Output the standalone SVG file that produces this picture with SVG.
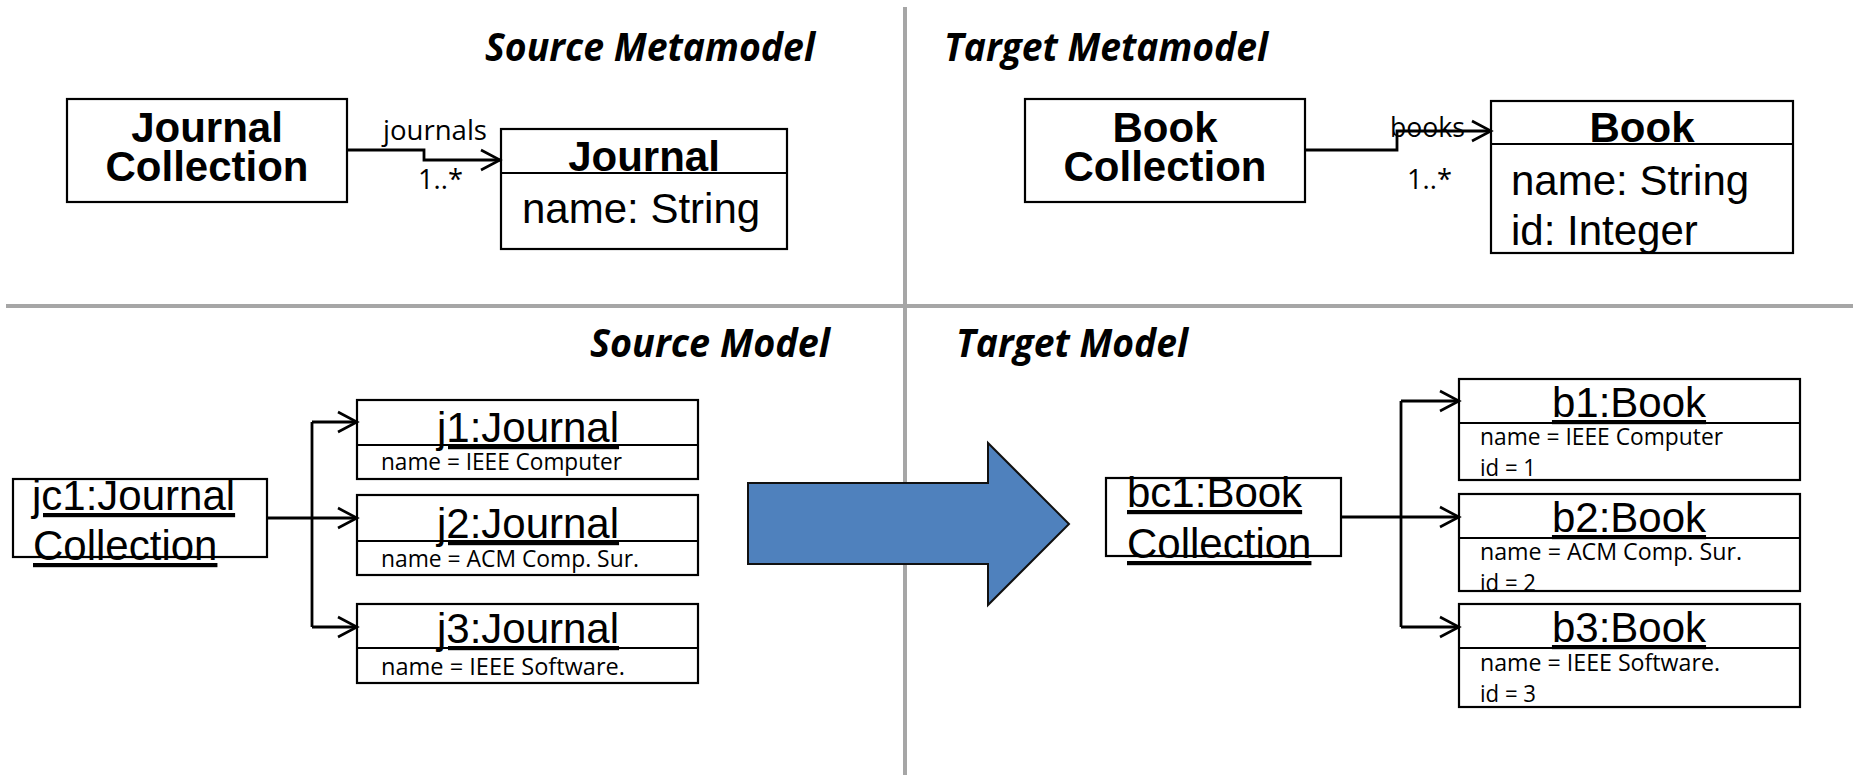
<svg xmlns="http://www.w3.org/2000/svg" width="1853" height="775" viewBox="0 0 1853 775">
  <style>
    .box { fill: #ffffff; stroke: #000000; stroke-width: 2.2; }
    .sep { stroke: #000000; stroke-width: 2.2; }
    .divider { stroke: #A6A6A6; stroke-width: 4; }
    .title { font-family: "Open Sans", "Noto Sans", sans-serif; font-weight: bold; font-style: italic; font-size: 39px; fill: #000; }
    .cls { font-family: "Liberation Sans", Arial, sans-serif; font-weight: bold; font-size: 42px; text-anchor: middle; fill: #000; }
    .attr { font-family: "Liberation Sans", Arial, sans-serif; font-size: 42px; fill: #000; }
    .obj { font-family: "Liberation Sans", Arial, sans-serif; font-size: 42px; text-decoration: underline; fill: #000; }
    .objc { font-family: "Liberation Sans", Arial, sans-serif; font-size: 42px; text-decoration: underline; text-anchor: middle; fill: #000; }
    .small { font-family: "Open Sans", "Noto Sans", sans-serif; font-size: 24px; fill: #000; }
    .lbl { font-family: "Open Sans", "Noto Sans", sans-serif; font-size: 28px; fill: #000; }
    .conn { fill: none; stroke: #000000; stroke-width: 2.8; }
    .bigarrow { fill: #4F81BD; stroke: #111111; stroke-width: 2; }
  </style>
  <defs>
    <marker id="open" markerUnits="userSpaceOnUse" markerWidth="24" markerHeight="26" viewBox="0 0 24 26" refX="21" refY="13" orient="auto">
      <path d="M2,3 L21,13 L2,23" fill="none" stroke="#000" stroke-width="2.6"/>
    </marker>
  </defs>

  <rect width="1853" height="775" fill="#ffffff"/>

  <!-- quadrant dividers -->
  <g id="dividers">
    <line class="divider" x1="905" y1="7" x2="905" y2="775"/>
    <line class="divider" x1="6" y1="306" x2="1853" y2="306"/>
  </g>

  <!-- quadrant headings -->
  <g id="headings">
    <text class="title" x="485" y="61" textLength="330" lengthAdjust="spacingAndGlyphs">Source Metamodel</text>
    <text class="title" x="944" y="61" textLength="324" lengthAdjust="spacingAndGlyphs">Target Metamodel</text>
    <text class="title" x="590" y="357" textLength="240" lengthAdjust="spacingAndGlyphs">Source Model</text>
    <text class="title" x="956" y="357" textLength="232" lengthAdjust="spacingAndGlyphs">Target Model</text>
  </g>

  <!-- source metamodel -->
  <g id="journal-collection-class">
    <rect class="box" x="67" y="99" width="280" height="103"/>
    <text class="cls" x="207" y="142">Journal</text>
    <text class="cls" x="207" y="181">Collection</text>
  </g>
  <g id="journal-class">
    <rect class="box" x="501" y="129" width="286" height="120"/>
    <line class="sep" x1="501" y1="173" x2="787" y2="173"/>
    <text class="cls" x="644" y="171">Journal</text>
    <text class="attr" x="522" y="223">name: String</text>
  </g>

  <!-- target metamodel -->
  <g id="book-collection-class">
    <rect class="box" x="1025" y="99" width="280" height="103"/>
    <text class="cls" x="1165" y="142">Book</text>
    <text class="cls" x="1165" y="181">Collection</text>
  </g>
  <g id="book-class">
    <rect class="box" x="1491" y="101" width="302" height="152"/>
    <line class="sep" x1="1491" y1="144" x2="1793" y2="144"/>
    <text class="cls" x="1642" y="142">Book</text>
    <text class="attr" x="1511" y="195">name: String</text>
    <text class="attr" x="1511" y="245">id: Integer</text>
  </g>

  <!-- source model -->
  <g id="jc1">
    <rect class="box" x="13" y="479" width="254" height="78"/>
    <text class="obj" x="32" y="510">jc1:Journal</text>
    <text class="obj" x="33" y="560">Collection</text>
  </g>
  <g id="j1">
    <rect class="box" x="357" y="400" width="341" height="79"/>
    <line class="sep" x1="357" y1="445" x2="698" y2="445"/>
    <text class="objc" x="528" y="442">j1:Journal</text>
    <text class="small" x="381" y="470" textLength="241" lengthAdjust="spacingAndGlyphs">name = IEEE Computer</text>
  </g>
  <g id="j2">
    <rect class="box" x="357" y="495" width="341" height="80"/>
    <line class="sep" x1="357" y1="541" x2="698" y2="541"/>
    <text class="objc" x="528" y="538">j2:Journal</text>
    <text class="small" x="381" y="567" textLength="258" lengthAdjust="spacingAndGlyphs">name = ACM Comp. Sur.</text>
  </g>
  <g id="j3">
    <rect class="box" x="357" y="604" width="341" height="79"/>
    <line class="sep" x1="357" y1="648" x2="698" y2="648"/>
    <text class="objc" x="528" y="643">j3:Journal</text>
    <text class="small" x="381" y="675" textLength="244" lengthAdjust="spacingAndGlyphs">name = IEEE Software.</text>
  </g>

  <!-- transformation arrow -->
  <g id="transformation">
    <polygon class="bigarrow" points="748,483 988,483 988,443 1069,524 988,605 988,564 748,564"/>
  </g>

  <!-- target model -->
  <g id="bc1">
    <rect class="box" x="1106" y="478" width="235" height="78"/>
    <text class="obj" x="1127" y="507">bc1:Book</text>
    <text class="obj" x="1127" y="558">Collection</text>
  </g>
  <g id="b1">
    <rect class="box" x="1459" y="379" width="341" height="101"/>
    <line class="sep" x1="1459" y1="423" x2="1800" y2="423"/>
    <text class="objc" x="1629" y="417">b1:Book</text>
    <text class="small" x="1480" y="445" textLength="243" lengthAdjust="spacingAndGlyphs">name = IEEE Computer</text>
    <text class="small" x="1480" y="476" textLength="56" lengthAdjust="spacingAndGlyphs">id = 1</text>
  </g>
  <g id="b2">
    <rect class="box" x="1459" y="494" width="341" height="97"/>
    <line class="sep" x1="1459" y1="538" x2="1800" y2="538"/>
    <text class="objc" x="1629" y="532">b2:Book</text>
    <text class="small" x="1480" y="560" textLength="262" lengthAdjust="spacingAndGlyphs">name = ACM Comp. Sur.</text>
    <text class="small" x="1480" y="591" textLength="56" lengthAdjust="spacingAndGlyphs">id = 2</text>
  </g>
  <g id="b3">
    <rect class="box" x="1459" y="604" width="341" height="103"/>
    <line class="sep" x1="1459" y1="648" x2="1800" y2="648"/>
    <text class="objc" x="1629" y="642">b3:Book</text>
    <text class="small" x="1480" y="671" textLength="240" lengthAdjust="spacingAndGlyphs">name = IEEE Software.</text>
    <text class="small" x="1480" y="702" textLength="56" lengthAdjust="spacingAndGlyphs">id = 3</text>
  </g>

  <!-- associations and links -->
  <g id="connectors">
    <polyline class="conn" points="347,150 424,150 424,160 500,160" marker-end="url(#open)"/>
    <text class="lbl" x="383" y="140" textLength="104" lengthAdjust="spacingAndGlyphs">journals</text>
    <text class="lbl" x="418" y="189" textLength="45" lengthAdjust="spacingAndGlyphs">1..*</text>

    <polyline class="conn" points="1305,150 1397,150 1397,131 1491,131" marker-end="url(#open)"/>
    <text class="lbl" x="1390" y="137" textLength="75" lengthAdjust="spacingAndGlyphs">books</text>
    <text class="lbl" x="1407" y="189" textLength="45" lengthAdjust="spacingAndGlyphs">1..*</text>

    <polyline class="conn" points="267,518 312,518"/>
    <polyline class="conn" points="312,422 312,627"/>
    <polyline class="conn" points="312,422 357,422" marker-end="url(#open)"/>
    <polyline class="conn" points="312,518 357,518" marker-end="url(#open)"/>
    <polyline class="conn" points="312,627 357,627" marker-end="url(#open)"/>

    <polyline class="conn" points="1341,517 1401,517"/>
    <polyline class="conn" points="1401,401 1401,627"/>
    <polyline class="conn" points="1401,401 1459,401" marker-end="url(#open)"/>
    <polyline class="conn" points="1401,517 1459,517" marker-end="url(#open)"/>
    <polyline class="conn" points="1401,627 1459,627" marker-end="url(#open)"/>
  </g>
</svg>
